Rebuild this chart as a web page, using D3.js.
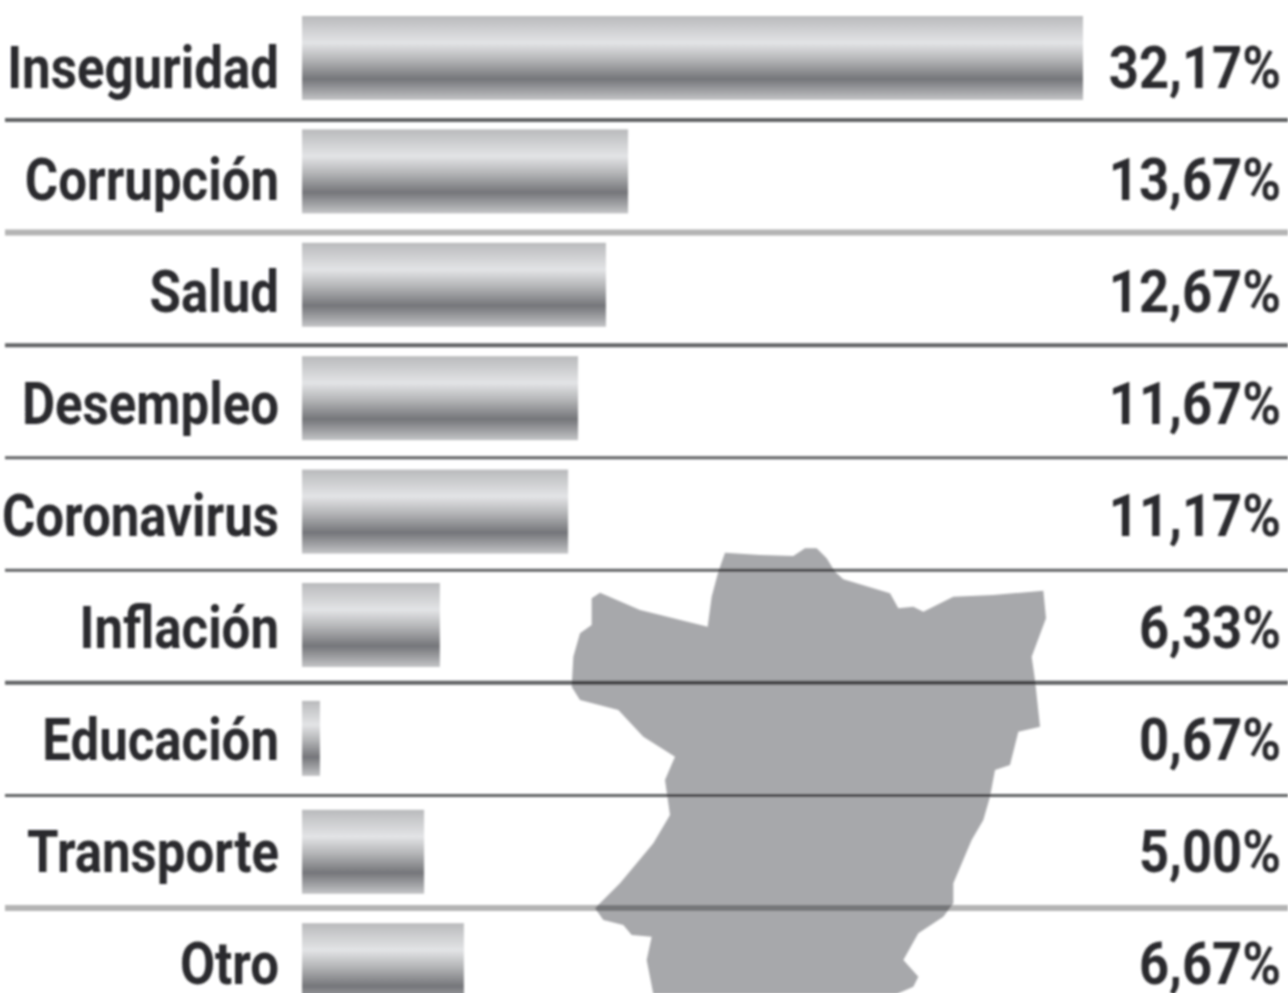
<!DOCTYPE html>
<html>

<head>
    <meta charset="utf-8">
    <style>
        html, body { margin: 0; padding: 0; background: #fff; }
        svg { display: block; }
        text { font-family: Roboto, sans-serif; font-weight: 700; fill: #2b2b2d; }
        .rules line { mix-blend-mode: multiply; }
    </style>
</head>

<body>
    <svg id="container" width="1288" height="993"></svg>
    <script src="https://cdn.jsdelivr.net/npm/d3@7"></script>
    <script>
        let categories = ["Inseguridad", "Corrupción", "Salud", "Desempleo", "Coronavirus", "Inflación", "Educación", "Transporte", "Otro"]
        // the printed percentages
        let shownValues = [32.17, 13.67, 12.67, 11.67, 11.17, 6.33, 0.67, 5.00, 6.67]
        // the bars in the picture are not quite to scale with their labels, so lengths are read off separately
        let barValues = [32.17, 13.43, 12.52, 11.37, 10.96, 5.68, 0.74, 5.03, 6.67]
        // map silhouette, traced in a 1500 x 1359 box
        let mapOutline = [[495, 38], [600, 45], [700, 48], [735, 25], [770, 25], [800, 55], [825, 95], [850, 118], [990, 160], [1015, 205], [1060, 200], [1090, 215], [1180, 170], [1300, 165], [1450, 152], [1458, 235], [1415, 350], [1425, 420], [1440, 560], [1375, 575], [1350, 675], [1305, 690], [1290, 770], [1270, 840], [1235, 900], [1180, 1030], [1180, 1090], [1150, 1130], [1075, 1180], [1030, 1260], [1075, 1310], [1060, 1340], [1010, 1362], [280, 1362], [260, 1260], [275, 1190], [215, 1185], [190, 1155], [130, 1140], [105, 1105], [180, 1030], [280, 910], [330, 825], [315, 720], [345, 650], [250, 590], [175, 510], [60, 480], [35, 440], [40, 350], [60, 280], [95, 255], [95, 175], [120, 158], [240, 210], [443, 260], [455, 170], [475, 95]]

        let svg = d3.select("#container")

        let x = d3.scaleLinear().domain([0, 32.17]).range([302, 1083])
        let y = d3.scaleBand().domain(categories).range([1.3, 1021.9])
        // labels sit on a slightly tighter pitch than the bars
        let textY = d3.scalePoint().domain(categories).range([88, 984])
        let ruleY = d3.scalePoint().domain(categories.slice(0, -1)).range([120, 908])
        let mapX = d3.scaleLinear().domain([0, 1500]).range([560, 1060])
        let mapY = d3.scaleLinear().domain([0, 1359]).range([540, 993])
        let formatValue = d3.formatLocale({ decimal: ",", thousands: ".", grouping: [3], currency: ["", ""] }).format(".2f")

        let defs = svg.append("defs")
        let gradient = defs.append("linearGradient")
            .attr("id", "barShade")
            .attr("x1", 0).attr("x2", 0).attr("y1", 0).attr("y2", 1)
        let stops = [[0, "#b9babc"], [0.32, "#e3e4e6"], [0.52, "#b4b5b7"], [0.75, "#75767a"], [0.9, "#a3a4a7"], [1, "#c4c5c7"]]
        gradient.selectAll("stop")
            .data(stops)
            .enter()
            .append("stop")
            .attr("offset", d => d[0])
            .attr("stop-color", d => d[1])

        defs.append("filter")
            .attr("id", "soft")
            .attr("x", "-2%").attr("y", "-2%").attr("width", "104%").attr("height", "104%")
            .append("feGaussianBlur")
            .attr("stdDeviation", 1.2)

        let body = svg.append("g").attr("filter", "url(#soft)")

        body.append("path")
            .datum(mapOutline)
            .attr("fill", "#a7a8ab")
            .attr("d", d3.line().x(d => mapX(d[0])).y(d => mapY(d[1])))

        let ruleColor = i => (i == 1 || i == 7) ? "#b4b4b4" : "#616263"
        let ruleWidth = i => (i == 1 || i == 7) ? 6 : (i == 0 || i == 2 || i == 5) ? 4 : 3

        body.append("g")
            .attr("class", "rules")
            .selectAll("line")
            .data(ruleY.domain())
            .enter()
            .append("line")
            .attr("x1", 5)
            .attr("x2", 1288)
            .attr("y1", d => ruleY(d))
            .attr("y2", d => ruleY(d))
            .attr("stroke", (d, i) => ruleColor(i))
            .attr("stroke-width", (d, i) => ruleWidth(i))

        // Educación is drawn a bit shorter than the other bars
        let barHeight = d => d == "Educación" ? 75 : 84

        body.append("g")
            .selectAll("rect")
            .data(categories)
            .enter()
            .append("rect")
            .attr("x", x(0))
            .attr("y", d => y(d) + y.bandwidth() / 2 - barHeight(d) / 2)
            .attr("width", (d, i) => x(barValues[i]) - x(0))
            .attr("height", barHeight)
            .attr("fill", "url(#barShade)")

        // no condensed face is installed, so Roboto is squeezed horizontally
        let labelSqueeze = 0.85
        let valueSqueeze = 0.875

        let labels = body.append("g")
            .attr("transform", "translate(279,0)")
            .call(d3.axisLeft(textY).tickSize(0).tickPadding(0))
        labels.select(".domain").remove()
        labels.selectAll(".tick")
            .attr("transform", d => "translate(0," + textY(d) + ") scale(" + labelSqueeze + ",1)")
        labels.selectAll("text")
            .attr("dy", 0)
            .attr("x", 0)
            .attr("font-size", 60)
        labels.attr("font-family", null).attr("font-size", null)

        body.append("g")
            .selectAll("text")
            .data(shownValues)
            .enter()
            .append("text")
            .attr("transform", (d, i) => "translate(1281," + textY(categories[i]) + ") scale(" + valueSqueeze + ",1)")
            .attr("text-anchor", "end")
            .attr("font-size", 60)
            .text(d => formatValue(d) + "%")
    </script>
</body>

</html>
